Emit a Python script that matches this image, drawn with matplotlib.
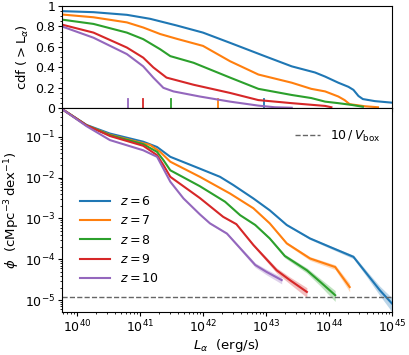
import numpy as np
import matplotlib
matplotlib.use("Agg")
import matplotlib.pyplot as plt

# redshifts and colours
redshifts = [6, 7, 8, 9, 10]
colors = ["C0", "C1", "C2", "C3", "C4"]

# cumulative distribution (top panel): log10 L, cdf
cdf_logL = {
    6: [39.76, 40.26, 40.79, 41.16, 41.58, 42.0, 42.43, 42.98, 43.41, 43.78, 43.94, 44.15, 44.31, 44.39, 44.47, 44.54, 44.73, 45.0],
    7: [39.76, 40.26, 40.79, 41.05, 41.32, 41.58, 42.0, 42.43, 42.88, 43.41, 43.72, 43.94, 44.15, 44.25, 44.33, 44.57, 44.78],
    8: [39.76, 40.26, 40.79, 41.05, 41.32, 41.48, 41.85, 42.43, 42.88, 43.41, 43.72, 43.94, 44.15, 44.36, 44.54],
    9: [39.76, 40.26, 40.79, 41.05, 41.21, 41.42, 41.85, 42.43, 42.88, 43.41, 43.94, 44.04],
    10: [39.76, 40.26, 40.79, 41.05, 41.21, 41.37, 41.53, 41.95, 42.43, 42.88, 43.14, 43.41],
}
cdf_val = {
    6: [0.95, 0.94, 0.914, 0.875, 0.81, 0.74, 0.64, 0.51, 0.41, 0.35, 0.31, 0.25, 0.21, 0.18, 0.12, 0.09, 0.07, 0.055],
    7: [0.917, 0.89, 0.84, 0.79, 0.726, 0.68, 0.61, 0.46, 0.33, 0.25, 0.19, 0.165, 0.115, 0.08, 0.04, 0.02, 0.01],
    8: [0.867, 0.825, 0.74, 0.676, 0.577, 0.51, 0.445, 0.30, 0.19, 0.13, 0.10, 0.065, 0.05, 0.033, 0.015],
    9: [0.818, 0.74, 0.594, 0.495, 0.40, 0.30, 0.23, 0.15, 0.08, 0.05, 0.023, 0.01],
    10: [0.80, 0.69, 0.53, 0.41, 0.30, 0.20, 0.165, 0.115, 0.065, 0.026, 0.01, 0.005],
}
# rug marks in the top panel (log10 L)
rug_logL = {6: 42.97, 7: 42.24, 8: 41.49, 9: 41.04, 10: 40.81}

# luminosity function (bottom panel): log10 L, log10 phi
lf_logL = {
    6: [39.76, 40.15, 40.52, 41.05, 41.27, 41.48, 41.95, 42.27, 42.48, 42.80, 43.06, 43.33, 43.70, 44.02, 44.39, 44.60, 44.81, 45.0],
    7: [39.76, 40.15, 40.52, 41.05, 41.16, 41.32, 41.48, 41.95, 42.43, 42.80, 43.06, 43.33, 43.70, 44.10, 44.33],
    8: [39.76, 40.15, 40.52, 41.05, 41.27, 41.37, 41.48, 41.95, 42.35, 42.59, 42.83, 43.06, 43.30, 43.65, 43.86, 44.10],
    9: [39.76, 40.15, 40.52, 41.05, 41.27, 41.37, 41.48, 41.95, 42.32, 42.53, 42.80, 43.17, 43.38, 43.65],
    10: [39.76, 40.15, 40.52, 41.05, 41.27, 41.37, 41.48, 41.69, 41.95, 42.11, 42.38, 42.83, 43.01, 43.25],
}
lf_logphi = {
    6: [-0.32, -0.71, -0.92, -1.12, -1.25, -1.49, -1.78, -1.98, -2.18, -2.51, -2.80, -3.16, -3.49, -3.70, -3.94, -4.35, -4.76, -5.08],
    7: [-0.32, -0.72, -0.95, -1.16, -1.20, -1.37, -1.61, -1.98, -2.39, -2.75, -3.12, -3.61, -3.98, -4.19, -4.68],
    8: [-0.32, -0.72, -0.96, -1.18, -1.37, -1.57, -1.82, -2.21, -2.59, -2.92, -3.16, -3.49, -3.92, -4.27, -4.55, -4.88],
    9: [-0.32, -0.72, -0.98, -1.22, -1.45, -1.69, -1.98, -2.50, -2.96, -3.14, -3.65, -4.27, -4.51, -4.80],
    10: [-0.32, -0.74, -1.08, -1.33, -1.49, -1.78, -2.10, -2.51, -2.90, -3.12, -3.37, -4.14, -4.31, -4.51],
}
phi_limit = 1.16e-5          # 10 / V_box
vbox = 10.0 / phi_limit      # cMpc^3

plt.rcParams["font.size"] = 9
plt.rcParams["xtick.major.size"] = 3
plt.rcParams["ytick.major.size"] = 3
plt.rcParams["xtick.minor.size"] = 1.6
plt.rcParams["ytick.minor.size"] = 1.6
plt.rcParams["xtick.major.pad"] = 2
plt.rcParams["ytick.major.pad"] = 2

fig = plt.figure(figsize=(4.09, 3.55), dpi=100)
ax1 = fig.add_axes([0.152, 0.695, 0.806, 0.288])
ax2 = fig.add_axes([0.152, 0.122, 0.806, 0.573], sharex=ax1)

# top: cdf
for z, c in zip(redshifts, colors):
    ax1.plot(10 ** np.array(cdf_logL[z]), cdf_val[z], color=c, lw=1.5)
    ax1.axvline(10 ** rug_logL[z], ymin=0, ymax=0.09, color=c, lw=1.3)
ax1.set_xscale("log")
ax1.set_ylim(0, 1)
ax1.set_yticks([0, 0.2, 0.4, 0.6, 0.8, 1.0])
ax1.set_yticklabels(["0", "0.2", "0.4", "0.6", "0.8", "1"])
ax1.minorticks_on()
ax1.tick_params(labelbottom=False)
ax1.set_ylabel(r"cdf $( > \mathrm{L}_\alpha)$", fontsize=9.5, labelpad=3)

# bottom: luminosity function with Poisson band
for z, c in zip(redshifts, colors):
    L = 10 ** np.array(lf_logL[z])
    phi = 10 ** np.array(lf_logphi[z])
    rel = 1.0 / np.sqrt(phi * vbox)
    ax2.fill_between(L, phi * (1 - rel), phi * (1 + rel), color=c, alpha=0.3, lw=0)
    ax2.plot(L, phi, color=c, lw=1.5, label=rf"$z={z}$")

lim_line = ax2.axhline(phi_limit, color="0.4", ls="--", lw=1)
ax2.set_xscale("log")
ax2.set_yscale("log")
ax2.set_xlim(10 ** 39.762, 1e45)
ax2.set_ylim(5.2e-6, 0.5)
ax2.set_xlabel(r"$L_\alpha\ \ (\mathrm{erg/s})$", fontsize=9.5, labelpad=1)
ax2.set_ylabel(r"$\phi\ \ (\mathrm{cMpc^{-3}\,dex^{-1}})$", fontsize=9.5, labelpad=2)

leg1 = ax2.legend(loc="lower left", bbox_to_anchor=(0.02, 0.075), frameon=False,
                  handlelength=2.4, labelspacing=0.5, fontsize=9)
ax2.add_artist(leg1)
ax2.legend([lim_line], [r"$10\,/\,V_{\rm box}$"], loc="upper right",
           bbox_to_anchor=(1.0, 0.955), frameon=False, handlelength=2.0, fontsize=9)

fig.savefig("out.png", dpi=100)
